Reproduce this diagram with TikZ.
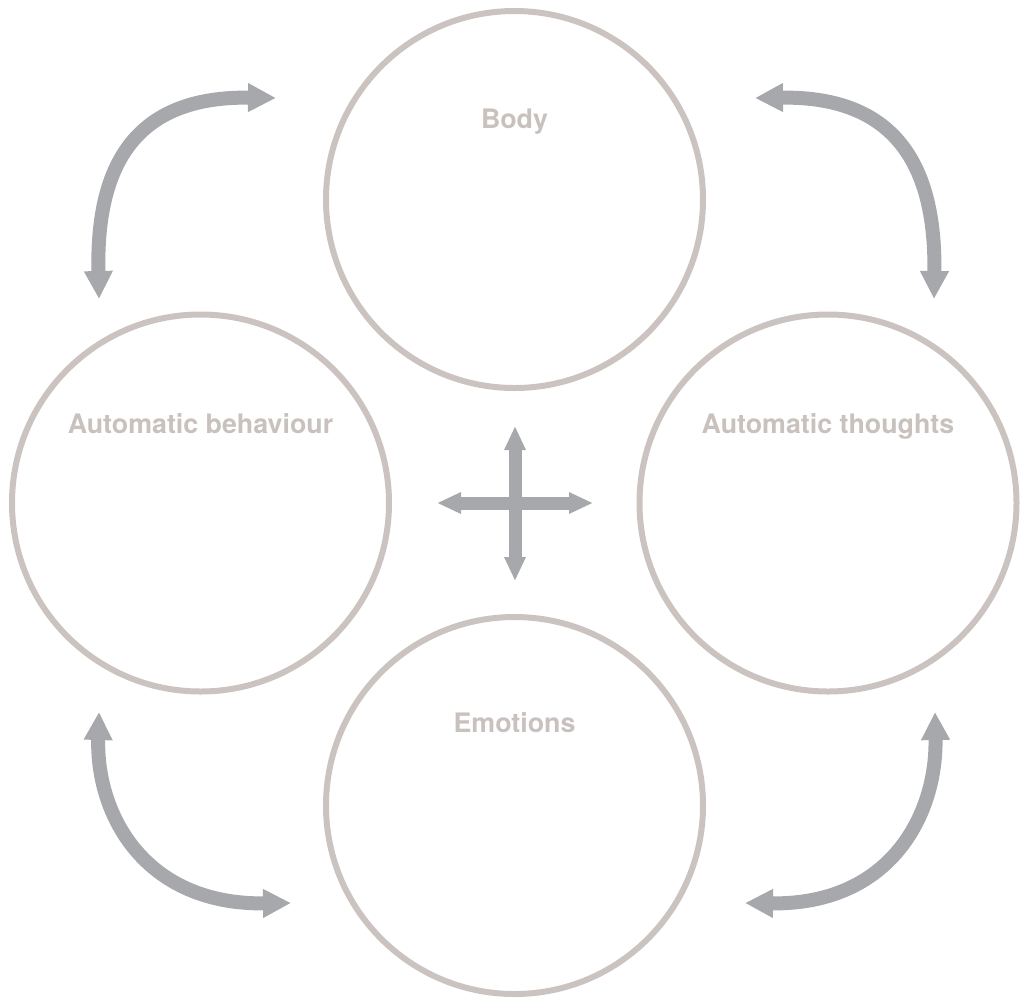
\documentclass[tikz,border=0pt]{standalone}
\usepackage{fontspec}
\setmainfont{TeX Gyre Heros}
\usetikzlibrary{arrows.meta}
\definecolor{ringcol}{HTML}{CBC3BF}
\definecolor{labelcol}{HTML}{C9C1BD}
\definecolor{arrowcol}{HTML}{A6A8AB}
\begin{document}
\begin{tikzpicture}[x=1pt,y=-1pt,
  ring/.style={circle,draw=ringcol,line width=6pt,minimum size=377pt,inner sep=0pt},
  ringlabel/.style={anchor=base,text=labelcol,font=\fontsize{26.8}{30}\selectfont\bfseries,inner sep=0pt},
  curvearrow/.style={draw=arrowcol,line width=14pt,
    {Triangle[width=27pt,length=28pt]}-{Triangle[width=27pt,length=28pt]}},
  crossarrow/.style={draw=arrowcol,line width=13pt,
    {Triangle[width=20pt,length=24pt]}-{Triangle[width=20pt,length=24pt]}}]
\useasboundingbox (0,0) rectangle (1027,997);

% the four circles
\node[ring] (body) at (514.5,199.5) {};
\node[ring] (behav) at (200.5,503) {};
\node[ring] (thought) at (828,503) {};
\node[ring] (emo) at (514.5,805.5) {};

% circle titles
\node[ringlabel] (lbody) at (514.5,128) {Body};
\node[ringlabel] (lbehav) at (200.5,433) {Automatic behaviour};
\node[ringlabel] (lthought) at (828,433) {Automatic thoughts};
\node[ringlabel] (lemo) at (514.5,732) {Emotions};

% end points of the curved double arrows
\coordinate (tlA) at (276,98);
\coordinate (tlB) at (99,299);
\coordinate (trA) at (755,98);
\coordinate (trB) at (934,299);
\coordinate (blA) at (99,712);
\coordinate (blB) at (291,903);
\coordinate (brA) at (935,712);
\coordinate (brB) at (745,903);

\path[curvearrow] (tlA) .. controls (135,96) and (96,165) .. (tlB);
\path[curvearrow] (trA) .. controls (895,96) and (936,165) .. (trB);
\path[curvearrow] (blA) .. controls (96,815) and (145,905) .. (blB);
\path[curvearrow] (brA) .. controls (937,815) and (890,905) .. (brB);

% central cross
\coordinate (cN) at (515,426);
\coordinate (cS) at (515,581);
\coordinate (cW) at (437,503);
\coordinate (cE) at (593,503);
\path[crossarrow] (cN) -- (cS);
\path[crossarrow] (cW) -- (cE);
\end{tikzpicture}
\end{document}
